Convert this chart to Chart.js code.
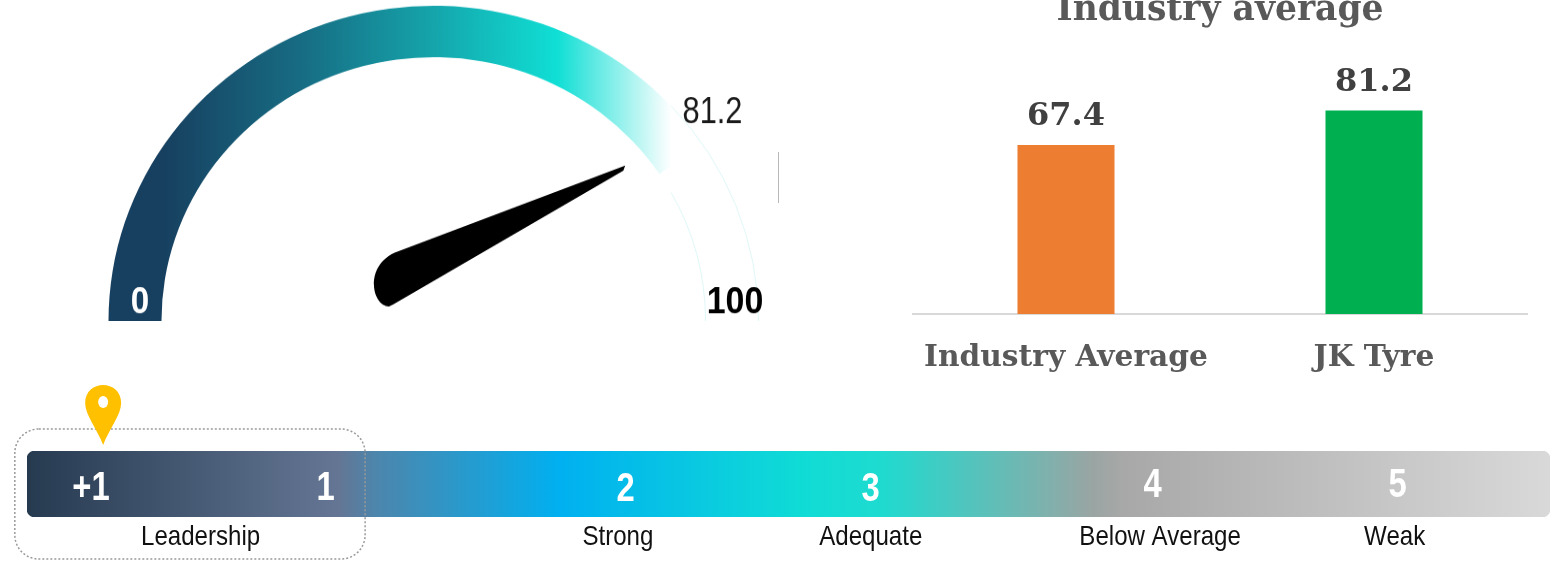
<!DOCTYPE html>
<html>
<head>
<meta charset="utf-8">
<title>Industry average</title>
<script src="https://cdn.jsdelivr.net/npm/chart.js@4"></script>
<style>
    html, body { margin: 0; width: 1565px; height: 561px; overflow: hidden; background: #fff; }
    canvas { position: absolute; }
    #gaugeChart { left: 107px; top: -5px; transform: scaleY(0.97); transform-origin: 50% 100%; }
    #barChart { left: 912px; top: -30px; }
    #scaleChart { left: 0; top: 375px; }
    #edgeMark { position: absolute; left: 778px; top: 152px; width: 1px; height: 51px; background: #b8b8b8; }
</style>
</head>
<body>
<canvas id="gaugeChart" width="680" height="326"></canvas>
<canvas id="barChart" width="616" height="410"></canvas>
<canvas id="scaleChart" width="1565" height="186"></canvas>
<div id="edgeMark"></div>
<script>
// gauge
const gaugeValues = [81.2, 18.8];
const gaugeMin = '0';
const gaugeMax = '100';
const needleReading = [85.5];

// bars
const barCategories = ['Industry Average', 'JK Tyre'];
const barValues = [67.4, 81.2];
const barColors = ['#ed7d31', '#00b050'];

// rating strip, positions in % of the strip length
const ratingNumbers = ['+1', '1', '2', '3', '4', '5'];
const ratingNumberPositions = [4.2, 19.6, 39.3, 55.4, 73.9, 90.0];
const ratingNames = ['Leadership', 'Strong', 'Adequate', 'Below Average', 'Weak'];
const ratingNamePositions = [11.4, 38.8, 55.4, 74.4, 89.8];
const pinPosition = [5.0];
const boxRange = [-0.8, 22.2];

const serif = '"DejaVu Serif", serif';
const sans = '"Liberation Sans", sans-serif';
const gaugeFadeEnd = 0.865; // where the arc gradient has gone fully white

Chart.defaults.animation = false;
Chart.defaults.responsive = false;
Chart.defaults.plugins.legend.display = false;
Chart.defaults.plugins.tooltip.enabled = false;

// no condensed face installed, so squeeze the text sideways
const narrowText = (ctx, text, x, y, squeeze) => {
    ctx.save();
    ctx.translate(x, y);
    ctx.scale(squeeze, 1);
    ctx.fillText(text, 0, 0);
    ctx.restore();
};

const gaugeFill = (context) => {
    if (context.dataIndex === 1) return '#ffffff';
    const { ctx, chartArea } = context.chart;
    if (!chartArea) return '#17405f';
    const gradient = ctx.createLinearGradient(chartArea.left, 0, chartArea.right, 0);
    gradient.addColorStop(0, '#173f5f');
    gradient.addColorStop(0.08, '#173f5f');
    gradient.addColorStop(0.3, '#176d84');
    gradient.addColorStop(0.5, '#15a5ab');
    gradient.addColorStop(0.69, '#10dfd5');
    gradient.addColorStop(gaugeFadeEnd, '#ffffff');
    return gradient;
};

const gaugeDecor = {
    id: 'gaugeDecor',
    afterDraw(chart) {
        const { ctx, chartArea } = chart;
        const arc = chart.getDatasetMeta(0).data[0];
        const cx = arc.x;
        const cy = arc.y;
        const mid = (arc.outerRadius + arc.innerRadius) / 2;

        // thin outline of the white part, starts where the gradient runs out
        const fadeX = chartArea.left + gaugeFadeEnd * chartArea.width - cx;
        ctx.save();
        ctx.strokeStyle = '#dff7f6';
        ctx.lineWidth = 1;
        [arc.outerRadius, arc.innerRadius].forEach((radius) => {
            ctx.beginPath();
            ctx.arc(cx, cy, radius, -Math.acos(fadeX / radius), 0);
            ctx.stroke();
        });
        ctx.restore();

        // needle, from the reading on the same 0-100 sweep as the arc
        const angle = Math.PI * (needleReading[0] / 100 - 1);
        ctx.save();
        ctx.translate(cx - 38, cy - 45);
        ctx.rotate(angle);
        ctx.fillStyle = '#000';
        ctx.beginPath();
        ctx.moveTo(14, -23);
        ctx.bezierCurveTo(-5, -25, -18, -14, -23, -2);
        ctx.bezierCurveTo(-28, 9, -26, 21, -19, 24);
        ctx.lineTo(-14.5, 24);
        ctx.lineTo(253, 1.5);
        ctx.lineTo(257, -2.5);
        ctx.closePath();
        ctx.fill();
        ctx.restore();

        ctx.textAlign = 'center';
        ctx.textBaseline = 'middle';
        ctx.font = `bold 39px ${sans}`;
        ctx.fillStyle = '#fff';
        narrowText(ctx, gaugeMin, cx - mid + 5, cy - 19, 0.85);
        ctx.fillStyle = '#000';
        narrowText(ctx, gaugeMax, cx + mid + 3, cy - 19, 0.87);
        ctx.font = `39px ${sans}`;
        ctx.fillStyle = '#1a1a1a';
        narrowText(ctx, gaugeValues[0].toFixed(1), cx + 279, cy - 215, 0.79);
    },
};

new Chart(document.getElementById('gaugeChart'), {
    type: 'doughnut',
    data: {
        datasets: [{
            data: gaugeValues,
            backgroundColor: gaugeFill,
            borderWidth: 0,
        }],
    },
    options: {
        rotation: -90,
        circumference: 180,
        cutout: '83.7%',
        layout: { padding: { right: 28, top: 1, left: 1 } },
    },
    plugins: [gaugeDecor],
});

const barLabels = {
    id: 'barLabels',
    afterDatasetsDraw(chart) {
        const { ctx } = chart;
        ctx.font = `bold 32px ${serif}`;
        ctx.fillStyle = '#404040';
        ctx.textAlign = 'center';
        ctx.textBaseline = 'middle';
        chart.getDatasetMeta(0).data.forEach((bar, i) => {
            ctx.fillText(barValues[i].toFixed(1), bar.x, bar.y - 28);
        });
    },
};

new Chart(document.getElementById('barChart'), {
    type: 'bar',
    data: {
        labels: barCategories,
        datasets: [{
            data: barValues,
            backgroundColor: barColors,
            barPercentage: 1,
            categoryPercentage: 0.315,
        }],
    },
    options: {
        plugins: {
            title: {
                display: true,
                text: 'Industry average',
                color: '#595959',
                font: { family: serif, size: 34.5, weight: 'bold' },
                padding: { top: 20, bottom: 32 },
            },
        },
        scales: {
            y: { display: false, min: 0, max: 100 },
            x: {
                afterFit: (scale) => {
                    scale.height = 66;
                    scale.paddingLeft = 0;
                    scale.paddingRight = 0;
                },
                grid: { display: false },
                border: { color: '#d9d9d9', width: 2 },
                ticks: {
                    color: '#595959',
                    padding: 18,
                    maxRotation: 0,
                    font: { family: serif, size: 29.7, weight: 'bold' },
                },
            },
        },
    },
    plugins: [barLabels],
});

const stripFill = (context) => {
    const { ctx, chartArea } = context.chart;
    if (!chartArea) return '#00b0f0';
    const gradient = ctx.createLinearGradient(chartArea.left, 0, chartArea.right, 0);
    gradient.addColorStop(0, '#263a50');
    gradient.addColorStop(0.205, '#647694');
    gradient.addColorStop(0.23, '#4c86ad');
    gradient.addColorStop(0.35, '#00b0f0');
    gradient.addColorStop(0.51, '#10dcd5');
    gradient.addColorStop(0.56, '#1edbd0');
    gradient.addColorStop(0.7, '#9aa5a3');
    gradient.addColorStop(0.72, '#a8a8a8');
    gradient.addColorStop(1, '#d9d9d9');
    return gradient;
};

const stripDecor = {
    id: 'stripDecor',
    afterDatasetsDraw(chart) {
        const { ctx, chartArea, scales } = chart;
        const midY = (chartArea.top + chartArea.bottom) / 2;
        const numberNudge = [5, 5, 6, 6, 2, 2];

        // numbers inside the strip
        ctx.save();
        ctx.font = `bold 40px ${sans}`;
        ctx.fillStyle = '#fff';
        ctx.textAlign = 'center';
        ctx.textBaseline = 'middle';
        ratingNumbers.forEach((label, i) => {
            narrowText(ctx, label, scales.x.getPixelForValue(ratingNumberPositions[i]), midY + numberNudge[i], 0.82);
        });
        ctx.restore();

        // names under the strip
        ctx.save();
        ctx.font = `28px ${sans}`;
        ctx.fillStyle = '#111';
        ctx.textAlign = 'center';
        ctx.textBaseline = 'middle';
        ratingNames.forEach((label, i) => {
            narrowText(ctx, label, scales.x.getPixelForValue(ratingNamePositions[i]), chartArea.bottom + 20, 0.86);
        });
        ctx.restore();

        // dotted box round the current band
        const left = scales.x.getPixelForValue(boxRange[0]);
        const right = scales.x.getPixelForValue(boxRange[1]);
        ctx.save();
        ctx.strokeStyle = '#9a9a9a';
        ctx.lineWidth = 1.5;
        ctx.setLineDash([2, 2]);
        ctx.beginPath();
        ctx.roundRect(left, chartArea.top - 22, right - left, 130, 24);
        ctx.stroke();
        ctx.restore();

        // pin marker
        const px = scales.x.getPixelForValue(pinPosition[0]);
        const tipY = chartArea.top - 6;
        const headY = tipY - 42;
        ctx.save();
        ctx.fillStyle = '#ffc000';
        ctx.beginPath();
        ctx.moveTo(px, tipY);
        ctx.bezierCurveTo(px - 6, tipY - 16, px - 18, headY + 12, px - 18, headY);
        ctx.bezierCurveTo(px - 18, headY - 24, px + 18, headY - 24, px + 18, headY);
        ctx.bezierCurveTo(px + 18, headY + 12, px + 6, tipY - 16, px, tipY);
        ctx.fill();
        ctx.fillStyle = '#fff';
        ctx.beginPath();
        ctx.ellipse(px, headY - 1, 5, 6, 0, 0, Math.PI * 2);
        ctx.fill();
        ctx.restore();
    },
};

new Chart(document.getElementById('scaleChart'), {
    type: 'bar',
    data: {
        labels: ['Rating'],
        datasets: [{
            data: [100],
            backgroundColor: stripFill,
            borderRadius: 8,
            borderSkipped: false,
            barPercentage: 1,
            categoryPercentage: 1,
        }],
    },
    options: {
        indexAxis: 'y',
        layout: { padding: { left: 27, right: 15, top: 76 } },
        scales: {
            y: { display: false },
            x: {
                min: 0,
                max: 100,
                afterFit: (scale) => { scale.height = 44; },
                grid: { display: false },
                border: { display: false },
                ticks: { display: false },
            },
        },
    },
    plugins: [stripDecor],
});
</script>
</body>
</html>
